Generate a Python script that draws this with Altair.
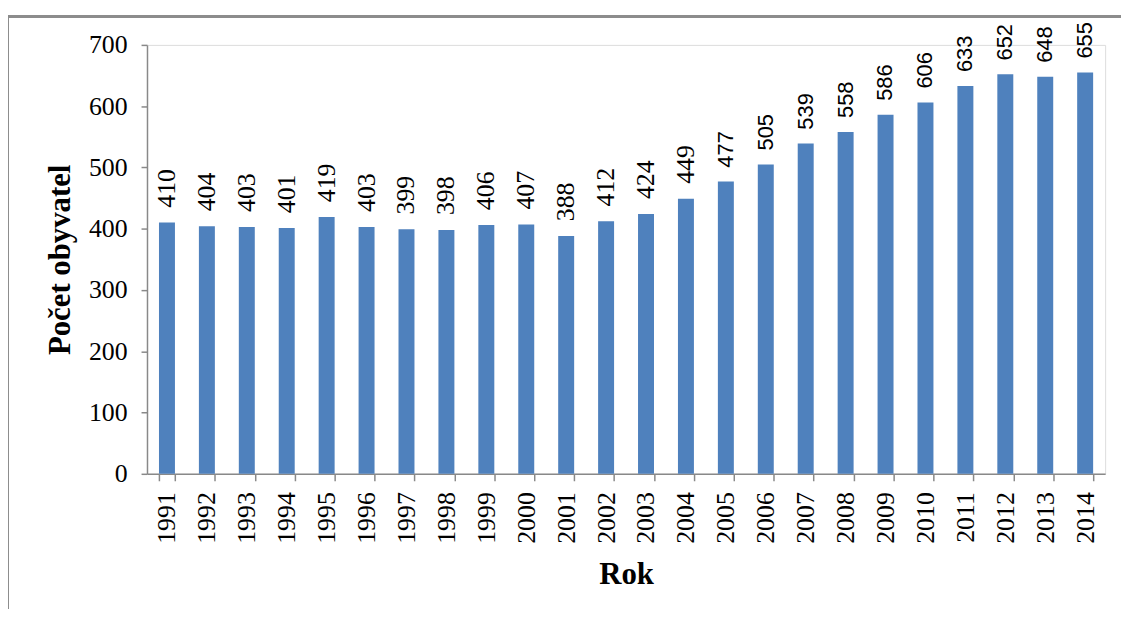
import altair as alt
import pandas as pd

years = [str(y) for y in range(1991, 2015)]
values = [410, 404, 403, 401, 419, 403, 399, 398, 406, 407, 388, 412,
          424, 449, 477, 505, 539, 558, 586, 606, 633, 652, 648, 655]
y_ticks = [0, 100, 200, 300, 400, 500, 600, 700]
# the original's data labels switch from serif to sans-serif from 2005 on
sans_from_year = 2005

df = pd.DataFrame({"Rok": years, "Počet obyvatel": values,
                   "yr": [int(y) for y in years]})

axis_color = "#898989"
serif = "Liberation Serif"

x_enc = alt.X(
    "Rok:N",
    sort=years,
    scale=alt.Scale(paddingInner=0.6, paddingOuter=0.3),
    axis=alt.Axis(
        title="Rok",
        labelAngle=-90,
        labelFont=serif,
        labelFontSize=26,
        labelColor="black",
        labelPadding=11,
        tickBand="extent",
        tickSize=7,
        tickColor=axis_color,
        tickWidth=1.5,
        domainColor=axis_color,
        domainWidth=1.5,
        titleFont=serif,
        titleFontSize=31,
        titleFontWeight="bold",
        titleColor="black",
        titlePadding=16,
        grid=False,
    ),
)

y_enc = alt.Y(
    "Počet obyvatel:Q",
    scale=alt.Scale(domain=[0, 700], nice=False),
    axis=alt.Axis(
        title="Počet obyvatel",
        values=y_ticks,
        labelFont=serif,
        labelFontSize=26,
        labelColor="black",
        labelPadding=14,
        tickSize=6,
        tickColor=axis_color,
        tickWidth=1.5,
        domainColor=axis_color,
        domainWidth=1.5,
        titleFont=serif,
        titleFontSize=31,
        titleFontWeight="bold",
        titleColor="black",
        titlePadding=12,
        grid=False,
    ),
)

base = alt.Chart(df)

bars = base.mark_bar(color="#4F81BD").encode(x=x_enc, y=y_enc)

label_enc = dict(
    x=alt.X("Rok:N", sort=years),
    y="Počet obyvatel:Q",
    text="Počet obyvatel:Q",
)

labels_serif = base.transform_filter(
    alt.datum.yr < sans_from_year
).mark_text(
    angle=270, align="left", baseline="middle", dx=15,
    font=serif, fontSize=26, color="black",
).encode(**label_enc)

labels_sans = base.transform_filter(
    alt.datum.yr >= sans_from_year
).mark_text(
    angle=270, align="left", baseline="middle", dx=14,
    font="Liberation Sans", fontSize=22, color="black",
).encode(**label_enc)

border = base.mark_rect(
    fill=None, stroke="#8c8c8c", strokeWidth=2
).encode(
    x=alt.value(-140.5),
    x2=alt.value(1200),
    y=alt.value(-28.5),
    y2=alt.value(800),
)

chart = alt.layer(bars, labels_serif, labels_sans, border).properties(
    width=965,
    height=432,
    autosize=alt.AutoSizeParams(type="none"),
    padding={"left": 140, "top": 35, "right": 16, "bottom": 134},
).configure_view(stroke=None).configure(background="white")

chart.save("out.html", embed_options={"renderer": "svg", "actions": False})
